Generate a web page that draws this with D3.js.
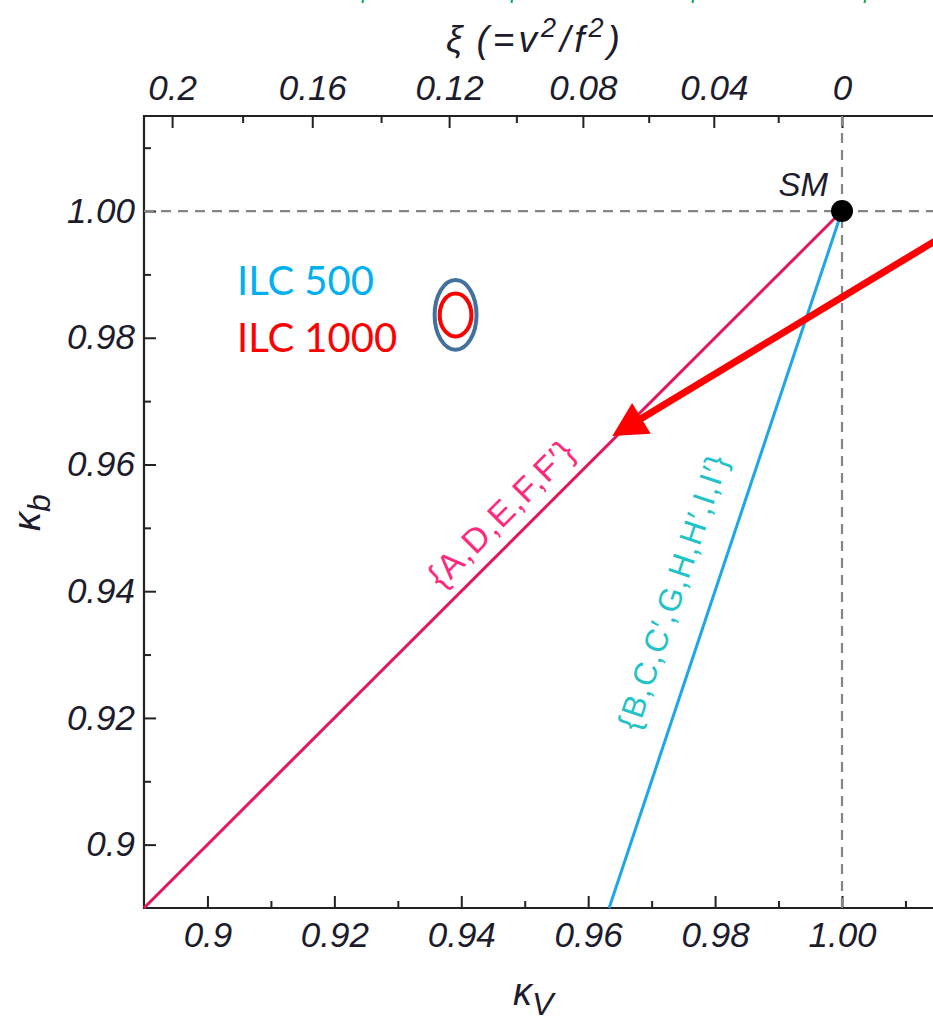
<!DOCTYPE html>
<html>
<head>
<meta charset="utf-8">
<script src="https://cdn.jsdelivr.net/npm/d3@7"></script>
<style>
  html, body { margin: 0; padding: 0; background: #ffffff; }
  svg { display: block; }
  .tick text { font-family: "Liberation Sans", Arial, sans-serif; font-style: italic; fill: #1c1c2c; }
</style>
</head>
<body>
<div id="chart"></div>
<script>
// ---- data ----
const xMajorTicks = [0.90, 0.92, 0.94, 0.96, 0.98, 1.00];
const xMajorLabels = ["0.9", "0.92", "0.94", "0.96", "0.98", "1.00"];
const xMinorTicks = [0.91, 0.93, 0.95, 0.97, 0.99, 1.01];
const yMajorTicks = [0.90, 0.92, 0.94, 0.96, 0.98, 1.00];
const yMajorLabels = ["0.9", "0.92", "0.94", "0.96", "0.98", "1.00"];
const yMinorTicks = [0.91, 0.93, 0.95, 0.97, 0.99, 1.01];
const xiMajorTicks = [0.20, 0.16, 0.12, 0.08, 0.04, 0.00];
const xiMajorLabels = ["0.2", "0.16", "0.12", "0.08", "0.04", "0"];
const xiMinorTicks = [0.18, 0.14, 0.10, 0.06, 0.02];

// Standard Model point
const smPoint = { kV: 1.0, kb: 1.0 };
// model family A, D, E, F, F' : kb = kV
const pinkKV = [0.89, 1.0];
const pinkKB = [0.89, 1.0];
// model family B, C, C', G, H, H', I, I' : kb = 1 - 3 (1 - kV)
const blueKV = [0.9633, 1.0];
const blueKB = [0.89, 1.0];
// ILC precision ellipses: centre, half-widths
const ellipseCenter = { kV: 0.9391, kb: 0.9836 };
const ilc500Radius = { kV: 0.0033, kb: 0.0055 };
const ilc1000Radius = { kV: 0.0025, kb: 0.0034 };
// annotation arrow, start to tip
const arrowKV = [1.02, 0.9638];
const arrowKB = [0.9985, 0.9645];

// ---- layout ----
const W = 933, H = 1021;
const plotLeft = 144, plotTop = 116, plotBottom = 908, xAtOne = 842;

const svg = d3.select("#chart").append("svg")
  .attr("width", W).attr("height", H);

const x = d3.scaleLinear().domain([0.89, 1.0]).range([plotLeft, xAtOne]);
const y = d3.scaleLinear().domain([0.89, 1.015]).range([plotBottom, plotTop]);
const xiToKV = xi => Math.sqrt(1 - xi);

const tickFont = "35px";

function styleAxis(g) {
  g.select(".domain").remove();
  g.selectAll(".tick line").attr("stroke", "#222").attr("stroke-width", 2);
  g.selectAll(".tick text").style("font-size", tickFont);
}

// bottom axis
svg.append("g").attr("transform", `translate(0,${plotBottom})`)
  .call(d3.axisBottom(x).tickValues(xMajorTicks)
    .tickFormat((d, i) => xMajorLabels[i]).tickSize(-12).tickPadding(14))
  .call(styleAxis);
svg.append("g").attr("transform", `translate(0,${plotBottom})`)
  .call(d3.axisBottom(x).tickValues(xMinorTicks).tickFormat("").tickSize(-7))
  .call(styleAxis);

// left axis
svg.append("g").attr("transform", `translate(${plotLeft},0)`)
  .call(d3.axisLeft(y).tickValues(yMajorTicks)
    .tickFormat((d, i) => yMajorLabels[i]).tickSize(-12).tickPadding(9))
  .call(styleAxis);
svg.append("g").attr("transform", `translate(${plotLeft},0)`)
  .call(d3.axisLeft(y).tickValues(yMinorTicks).tickFormat("").tickSize(-7))
  .call(styleAxis);

// top axis in xi = v^2/f^2, placed at kV = sqrt(1 - xi)
svg.append("g").attr("transform", `translate(0,${plotTop})`)
  .call(d3.axisTop(x).tickValues(xiMajorTicks.map(xiToKV))
    .tickFormat((d, i) => xiMajorLabels[i]).tickSize(-12).tickPadding(16))
  .call(styleAxis);
svg.append("g").attr("transform", `translate(0,${plotTop})`)
  .call(d3.axisTop(x).tickValues(xiMinorTicks.map(xiToKV)).tickFormat("").tickSize(-7))
  .call(styleAxis);

// frame (right side runs off the page)
svg.append("path")
  .attr("d", `M${W + 5},${plotTop}H${plotLeft}V${plotBottom}H${W + 5}`)
  .attr("fill", "none").attr("stroke", "#222").attr("stroke-width", 2.2);

// SM reference lines
svg.append("line")
  .attr("x1", plotLeft).attr("x2", W)
  .attr("y1", y(smPoint.kb)).attr("y2", y(smPoint.kb))
  .attr("stroke", "#858585").attr("stroke-width", 2.2).attr("stroke-dasharray", "10,7");
svg.append("line")
  .attr("x1", x(smPoint.kV)).attr("x2", x(smPoint.kV))
  .attr("y1", plotTop).attr("y2", plotBottom)
  .attr("stroke", "#858585").attr("stroke-width", 2.2).attr("stroke-dasharray", "10,7");

// model lines
const line = d3.line().x(d => x(d[0])).y(d => y(d[1]));
svg.append("path").datum(d3.zip(pinkKV, pinkKB))
  .attr("d", line).attr("fill", "none")
  .attr("stroke", "#e2185a").attr("stroke-width", 3);
svg.append("path").datum(d3.zip(blueKV, blueKB))
  .attr("d", line).attr("fill", "none")
  .attr("stroke", "#1ea6e6").attr("stroke-width", 3);

// labels running along a line
function lineLabel(text, kvs, kbs, atKV, offset, color, size) {
  const p0 = [x(kvs[0]), y(kbs[0])], p1 = [x(kvs[1]), y(kbs[1])];
  const ang = Math.atan2(p1[1] - p0[1], p1[0] - p0[0]) * 180 / Math.PI;
  const t = (atKV - kvs[0]) / (kvs[1] - kvs[0]);
  const kb = kbs[0] + t * (kbs[1] - kbs[0]);
  svg.append("text")
    .attr("transform", `translate(${x(atKV)},${y(kb)}) rotate(${ang})`)
    .attr("y", -offset).attr("dy", "0.35em")
    .attr("text-anchor", "middle")
    .style("font-family", "'Liberation Sans', Arial, sans-serif")
    .style("font-size", size)
    .style("letter-spacing", "1.5px")
    .attr("fill", color).text(text);
}
lineLabel("{A,D,E,F,F\u2032}", pinkKV, pinkKB, 0.9493, 27, "#ff2a7c", "34px");
lineLabel("{B,C,C\u2032,G,H,H\u2032,I,I\u2032}", blueKV, blueKB, 0.9793, 40, "#22c3c8", "32px");

// SM point
svg.append("circle")
  .attr("cx", x(smPoint.kV)).attr("cy", y(smPoint.kb)).attr("r", 11)
  .attr("fill", "#000");
svg.append("text")
  .attr("x", x(smPoint.kV) - 14).attr("y", y(smPoint.kb) - 15)
  .attr("text-anchor", "end")
  .style("font-family", "'Liberation Sans', Arial, sans-serif")
  .style("font-style", "italic").style("font-size", "33px")
  .attr("fill", "#1c1c2c").text("SM");

// ILC ellipses
svg.append("ellipse")
  .attr("cx", x(ellipseCenter.kV)).attr("cy", y(ellipseCenter.kb))
  .attr("rx", x(ellipseCenter.kV + ilc500Radius.kV) - x(ellipseCenter.kV))
  .attr("ry", y(ellipseCenter.kb - ilc500Radius.kb) - y(ellipseCenter.kb))
  .attr("fill", "none").attr("stroke", "#41719c").attr("stroke-width", 4);
svg.append("ellipse")
  .attr("cx", x(ellipseCenter.kV)).attr("cy", y(ellipseCenter.kb))
  .attr("rx", x(ellipseCenter.kV + ilc1000Radius.kV) - x(ellipseCenter.kV))
  .attr("ry", y(ellipseCenter.kb - ilc1000Radius.kb) - y(ellipseCenter.kb))
  .attr("fill", "none").attr("stroke", "#ff0000").attr("stroke-width", 4);

svg.append("text").attr("x", 237).attr("y", 295)
  .style("font-family", "Lato, 'Open Sans', sans-serif").style("font-size", "40px")
  .attr("fill", "#00b0f0").text("ILC 500");
svg.append("text").attr("x", 237).attr("y", 352)
  .style("font-family", "Lato, 'Open Sans', sans-serif").style("font-size", "40px")
  .attr("fill", "#ff0000").text("ILC 1000");

// annotation arrow
{
  const s = [x(arrowKV[0]), y(arrowKB[0])], tip = [x(arrowKV[1]), y(arrowKB[1])];
  const len = Math.hypot(tip[0] - s[0], tip[1] - s[1]);
  const u = [(tip[0] - s[0]) / len, (tip[1] - s[1]) / len];
  const n = [-u[1], u[0]];
  const headL = 34, headW = 18;
  const base = [tip[0] - u[0] * headL, tip[1] - u[1] * headL];
  svg.append("line")
    .attr("x1", s[0]).attr("y1", s[1])
    .attr("x2", base[0] + u[0] * 4).attr("y2", base[1] + u[1] * 4)
    .attr("stroke", "#ff0000").attr("stroke-width", 7);
  svg.append("path")
    .attr("d", `M${tip[0]},${tip[1]}L${base[0] + n[0] * headW},${base[1] + n[1] * headW}` +
      `L${base[0] - n[0] * headW},${base[1] - n[1] * headW}Z`)
    .attr("fill", "#ff0000");
}

// axis titles
const axisTitleFont = "'Liberation Sans', Arial, sans-serif";
const xiTitle = svg.append("text")
  .attr("x", 446).attr("y", 52)
  .style("font-family", axisTitleFont).style("font-style", "italic")
  .style("font-size", "37px").style("letter-spacing", "4px").attr("fill", "#1c1c2c");
xiTitle.append("tspan").text("\u03be");
xiTitle.append("tspan").attr("dx", 10).text("(=v");
xiTitle.append("tspan").attr("dy", -15).style("font-size", "27px").text("2");
xiTitle.append("tspan").attr("dy", 15).text("/f");
xiTitle.append("tspan").attr("dy", -15).style("font-size", "27px").text("2");
xiTitle.append("tspan").attr("dy", 15).text(")");

const kvTitle = svg.append("text")
  .attr("x", 513).attr("y", 1005)
  .style("font-family", axisTitleFont).style("font-style", "italic")
  .style("font-size", "38px").attr("fill", "#1c1c2c");
kvTitle.append("tspan").text("\u03ba");
kvTitle.append("tspan").attr("dy", 10).style("font-size", "32px").text("V");

const kbTitle = svg.append("text")
  .attr("transform", "translate(40,531) rotate(-90)")
  .style("font-family", axisTitleFont).style("font-style", "italic")
  .style("font-size", "38px").attr("fill", "#1c1c2c");
kbTitle.append("tspan").text("\u03ba");
kbTitle.append("tspan").attr("dy", 10).style("font-size", "32px").text("b");

// descender strokes of a green caption line lying above the page edge
svg.append("g").attr("stroke", "#00b050").attr("stroke-width", 2)
  .selectAll("line").data([363, 512, 693, 865]).join("line")
  .attr("x1", d => d).attr("x2", d => d - 0.5)
  .attr("y1", 0).attr("y2", 3);
</script>
</body>
</html>
